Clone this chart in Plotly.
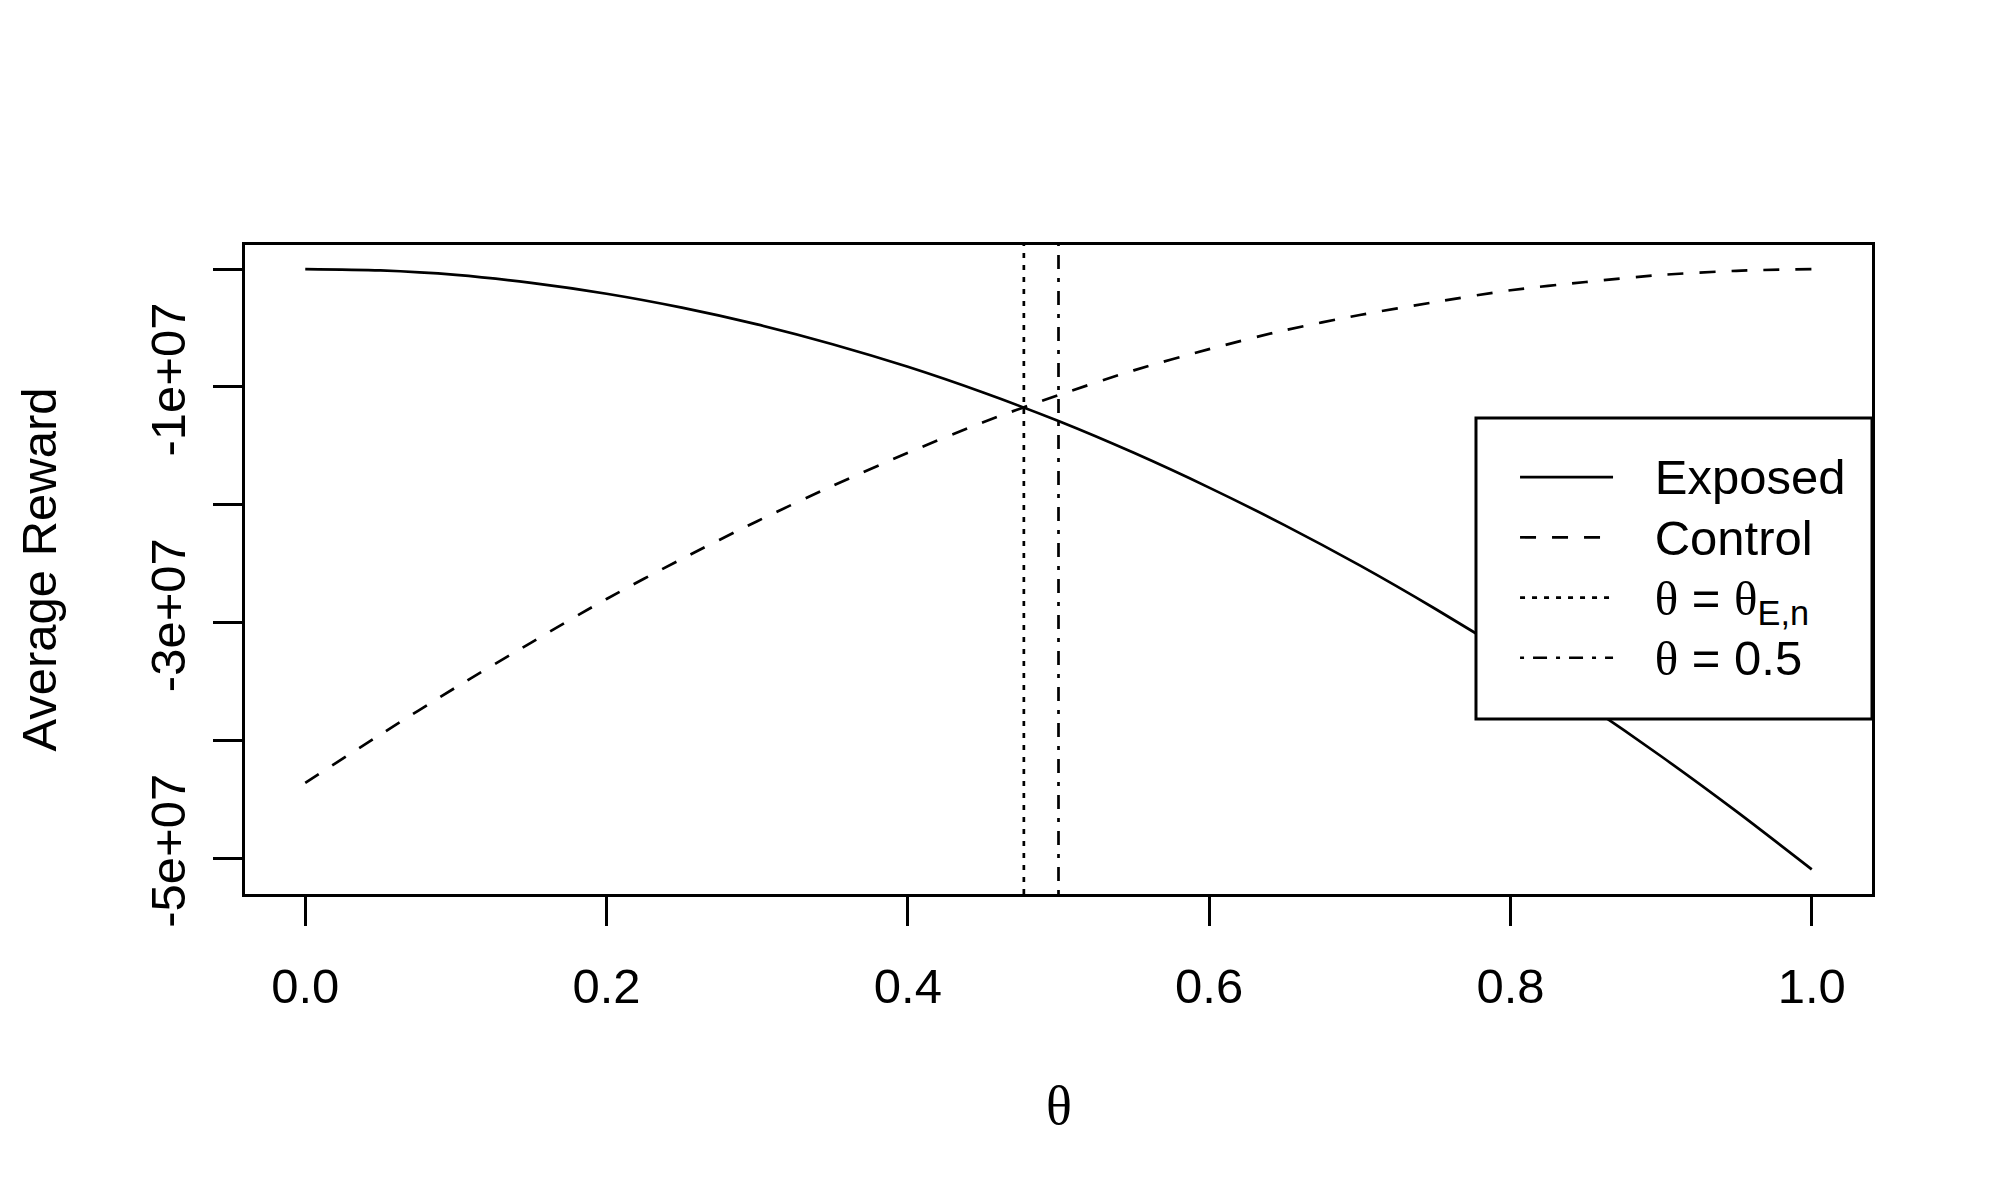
import plotly.graph_objects as go

# ---- data ----
theta = [0.00, 0.05, 0.10, 0.15, 0.20, 0.25, 0.30, 0.35, 0.40, 0.45, 0.50,
         0.55, 0.60, 0.65, 0.70, 0.75, 0.80, 0.85, 0.90, 0.95, 1.00]
exposed_1e7 = [0.00, -0.012, -0.05, -0.118, -0.21, -0.328, -0.47, -0.638, -0.83, -1.048, -1.29,
               -1.56, -1.855, -2.173, -2.515, -2.883, -3.275, -3.693, -4.135, -4.603, -5.095]
control_1e7 = [-4.36, -3.95, -3.55, -3.17, -2.80, -2.46, -2.14, -1.84, -1.56, -1.30, -1.07,
               -0.86, -0.68, -0.52, -0.39, -0.28, -0.18, -0.11, -0.05, -0.015, 0.00]
exposed = [v * 1e7 for v in exposed_1e7]
control = [v * 1e7 for v in control_1e7]

theta_En = 0.477
theta_half = 0.5

x_tickvals = [0.0, 0.2, 0.4, 0.6, 0.8, 1.0]
x_ticktext = ["0.0", "0.2", "0.4", "0.6", "0.8", "1.0"]
y_tickvals = [-5e7, -3e7, -1e7]          # labelled ticks
y_ticktext = ["-5e+07", "-3e+07", "-1e+07"]
y_minor_tickvals = [-4e7, -2e7, 0]       # unlabelled ticks

SANS = "Liberation Sans, Arial, sans-serif"
SERIF = "Liberation Serif, Times New Roman, serif"
FS = 49
LW = 2.7
PAD = "\u00a0\u00a0\u00a0"


def big(s):
    return f"<span style='font-size:{FS}px'>{s}</span>"


TH = "<span style='font-family:Liberation Serif'>θ</span>"

fig = go.Figure()
fig.add_trace(go.Scatter(x=theta, y=exposed, mode="lines", name=PAD + big("Exposed"),
                         line=dict(color="black", width=LW, shape="spline", smoothing=0.8),
                         legendrank=1))
fig.add_trace(go.Scatter(x=theta, y=control, mode="lines", name=PAD + big("Control"),
                         line=dict(color="black", width=LW, dash="16px,16px",
                                   shape="spline", smoothing=0.8),
                         legendrank=2))

fig.add_shape(type="line", xref="x", yref="paper", x0=theta_En, x1=theta_En, y0=0, y1=1,
              line=dict(color="black", width=LW, dash="5px,7px"),
              showlegend=True, name=PAD + big(f"{TH} = {TH}<sub>E,n</sub>"), legendrank=3)
fig.add_shape(type="line", xref="x", yref="paper", x0=theta_half, x1=theta_half, y0=0, y1=1,
              line=dict(color="black", width=LW, dash="4px,9px,14px,9px"),
              showlegend=True, name=PAD + big(f"{TH} = 0.5"), legendrank=4)

# legend frame (drawn above the curves, below the legend entries)
fig.add_shape(type="rect", xref="paper", yref="paper", x0=0.7566, x1=1.0, y0=0.2696, y1=0.7334,
              line=dict(color="black", width=3), fillcolor="white", layer="above")

axis_common = dict(showgrid=False, zeroline=False, showline=True, mirror=True,
                   linecolor="black", linewidth=3, ticks="outside", ticklen=29,
                   tickwidth=2.5, tickcolor="black",
                   tickfont=dict(family=SANS, size=FS, color="black"))

fig.update_xaxes(range=[-0.04, 1.04], tickmode="array", tickvals=x_tickvals,
                 ticktext=x_ticktext, ticklabelstandoff=18, **axis_common)
fig.update_yaxes(range=[-5.304e7, 0.204e7], tickmode="array", tickvals=y_tickvals,
                 ticktext=y_ticktext, tickangle=-90, ticklabelstandoff=8,
                 minor=dict(tickmode="array", tickvals=y_minor_tickvals, ticks="outside",
                            ticklen=29, tickwidth=2.5, tickcolor="black", showgrid=False),
                 **axis_common)

fig.add_annotation(text="θ", xref="paper", yref="paper", x=0.5, y=-0.3267,
                   xanchor="center", yanchor="middle", showarrow=False,
                   font=dict(family=SERIF, size=54, color="black"))
fig.add_annotation(text="Average Reward", xref="paper", yref="paper", x=-0.1272, y=0.5,
                   xanchor="center", yanchor="middle", textangle=-90, showarrow=False,
                   font=dict(family=SANS, size=FS, color="black"))

fig.update_layout(
    width=1992, height=1192,
    margin=dict(l=237, r=128, t=237, b=306),
    paper_bgcolor="white", plot_bgcolor="white",
    font=dict(family=SANS, size=FS, color="black"),
    showlegend=True,
    legend=dict(x=0.7806, xanchor="left", y=0.6964, yanchor="top",
                bgcolor="rgba(0,0,0,0)", borderwidth=0,
                font=dict(family=SANS, size=44, color="black"),
                itemwidth=93, tracegroupgap=0),
)

fig.write_html("out.html")
